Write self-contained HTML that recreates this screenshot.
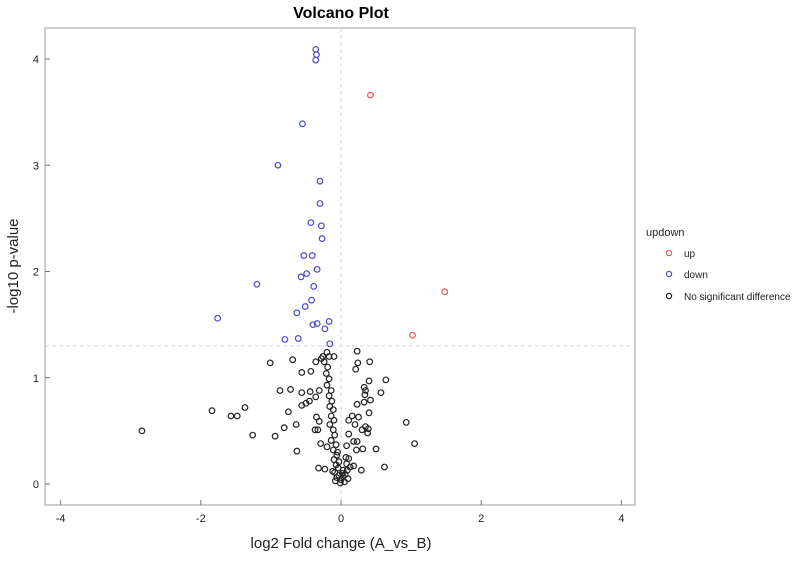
<!DOCTYPE html>
<html><head><meta charset="utf-8"><style>
body{margin:0;background:#fff;font-family:"Liberation Sans",sans-serif}
svg text{font-family:"Liberation Sans",sans-serif}
</style></head><body>
<svg id="chart" width="795" height="557">
<text x="341" y="18" text-anchor="middle" font-size="16" font-weight="bold">Volcano Plot</text>
<rect x="45" y="28" width="590" height="477" fill="none" stroke="#bdbdbd" stroke-width="1.5"/>
<g id="axes"></g>
<g id="points"></g>
<text x="341" y="548" text-anchor="middle" font-size="15" fill="#222">log2 Fold change (A_vs_B)</text>
<text transform="translate(18,266) rotate(-90)" text-anchor="middle" font-size="15" fill="#222">-log10 p-value</text>
<g>
<text x="646" y="236" font-size="11" fill="#222">updown</text>
<circle cx="669" cy="253" r="2.6" fill="none" stroke="#e06060" stroke-width="1.2"/>
<text x="684" y="257" font-size="10" fill="#222">up</text>
<circle cx="669" cy="274" r="2.6" fill="none" stroke="#5050d0" stroke-width="1.2"/>
<text x="684" y="278" font-size="10" fill="#222">down</text>
<circle cx="669" cy="296" r="2.6" fill="none" stroke="#222" stroke-width="1.2"/>
<text x="684" y="300" font-size="10" fill="#222">No significant difference</text>
</g>
</svg>
<script>
const xTicks=[-4,-2,0,2,4];
const yTicks=[0,1,2,3,4];
const pThreshold=1.3;
const upX=[0.42,1.48,1.02];
const upY=[3.66,1.81,1.40];
const downX=[-0.36,-0.35,-0.36,-0.55,-0.90,-0.30,-0.30,-0.43,-0.28,-0.27,-0.53,-0.41,-0.34,-0.49,-0.57,-1.20,-0.39,-0.42,-0.51,-0.63,-1.76,-0.34,-0.40,-0.17,-0.23,-0.80,-0.61,-0.16];
const downY=[4.09,4.04,3.99,3.39,3.00,2.85,2.64,2.46,2.43,2.31,2.15,2.15,2.02,1.98,1.95,1.88,1.86,1.73,1.67,1.61,1.56,1.51,1.50,1.53,1.46,1.36,1.37,1.32];
const nsX=[-2.84,-1.84,-1.57,-1.48,-1.37,-1.26,-0.94,-0.81,-0.75,-0.64,-0.63,-1.01,-0.69,-0.56,-0.43,-0.87,-0.72,-0.56,-0.44,-0.31,-0.36,-0.56,-0.50,-0.45,-0.36,-0.28,-0.35,-0.31,-0.37,-0.33,-0.29,-0.32,-0.23,
0.23,0.24,0.21,0.41,0.40,0.64,0.33,0.35,0.34,0.57,0.42,0.33,0.23,0.40,0.16,0.25,0.11,0.20,0.35,0.39,0.30,0.38,0.11,0.18,0.23,0.08,0.22,0.31,0.50,0.11,0.18,0.29,0.62,0.08,0.93,1.05,
-0.20,-0.17,-0.24,-0.19,-0.21,-0.17,-0.20,-0.14,-0.17,-0.13,-0.16,-0.11,-0.14,-0.10,-0.16,-0.11,-0.09,-0.14,-0.07,-0.11,-0.06,-0.10,-0.07,-0.04,-0.09,-0.03,-0.06,0.00,0.03,0.06,-0.01,0.03,0.09,0.13,-0.03,-0.10,-0.26,
-0.08,0.05,0.10,-0.12,0.07,-0.05,-0.20,0.02];
const nsY=[0.50,0.69,0.64,0.64,0.72,0.46,0.45,0.53,0.68,0.56,0.31,1.14,1.17,1.05,1.06,0.88,0.89,0.86,0.87,0.88,0.82,0.74,0.76,0.78,1.15,1.18,0.63,0.59,0.51,0.51,0.38,0.15,0.14,
1.25,1.14,1.08,1.15,0.97,0.98,0.91,0.88,0.84,0.86,0.79,0.77,0.75,0.67,0.64,0.63,0.60,0.56,0.54,0.52,0.51,0.48,0.47,0.40,0.40,0.36,0.32,0.33,0.33,0.24,0.17,0.13,0.16,0.19,0.58,0.38,
1.24,1.20,1.15,1.10,1.04,0.99,0.93,0.88,0.83,0.78,0.73,0.70,0.64,0.60,0.56,0.51,0.46,0.41,0.37,0.32,0.27,0.23,0.18,0.15,0.11,0.08,0.06,0.04,0.07,0.09,0.01,0.13,0.13,0.16,0.21,1.20,1.20,
0.03,0.02,0.05,0.12,0.25,0.30,0.35,0.10];

const X0=341,XS=70.1,Y0=484,YS=106.25;
const sx=v=>X0+v*XS, sy=v=>Y0-v*YS;
const NS='http://www.w3.org/2000/svg';
const axes=document.getElementById('axes');
function mk(tag,attrs,parent){const e=document.createElementNS(NS,tag);for(const k in attrs)e.setAttribute(k,attrs[k]);parent.appendChild(e);return e;}
// reference lines
let l=mk('line',{x1:sx(0),x2:sx(0),y1:28,y2:505,stroke:'#d8d8d8','stroke-dasharray':'4,3','stroke-width':1},axes);


l=mk('line',{x1:45,x2:635,y1:sy(pThreshold),y2:sy(pThreshold),stroke:'#d8d8d8','stroke-dasharray':'4,3','stroke-width':1},axes);


xTicks.forEach(t=>{
  const tk=mk('line',{x1:sx(t),x2:sx(t),y1:505,y2:500,stroke:'#777','stroke-width':1},axes);
  
  
  const tx=mk('text',{x:sx(t),y:522,'text-anchor':'middle','font-size':11,fill:'#222'},axes);
  tx.textContent=t;
  
  
});
yTicks.forEach(t=>{
  const tk=mk('line',{x1:45,x2:50,y1:sy(t),y2:sy(t),stroke:'#777','stroke-width':1},axes);
  
  
  const tx=mk('text',{x:39,y:sy(t)+4,'text-anchor':'end','font-size':11,fill:'#222'},axes);
  tx.textContent=t;
  
  
});
const pts=document.getElementById('points');
function draw(xs,ys,color,name){
  xs.forEach((x,i)=>{
    const c=mk('circle',{cx:sx(x),cy:sy(ys[i]),r:2.8,fill:'none',stroke:color,'stroke-width':1.2},pts);
    
    
  });
}
draw(nsX,nsY,'#222','point-no-significant');
draw(downX,downY,'#4a4ad0','point-down');
draw(upX,upY,'#e05a5a','point-up');
</script>
</body></html>
